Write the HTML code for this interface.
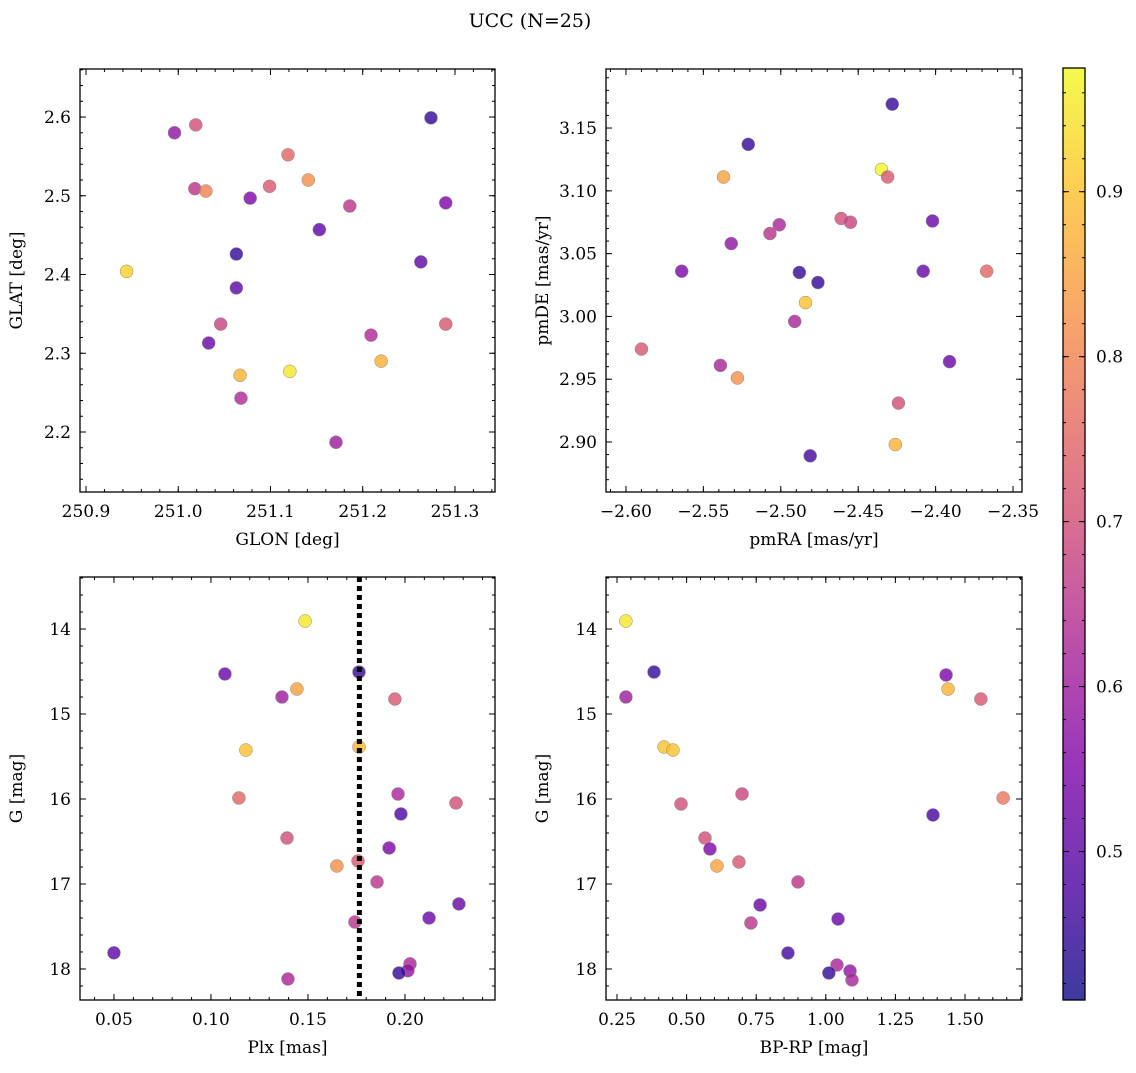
<!DOCTYPE html>
<html><head><meta charset="utf-8"><style>
body{margin:0;background:#fff}
text{font-family:"DejaVu Serif","Liberation Serif",serif;fill:#000}
</style></head><body>
<svg id="s" width="1136" height="1068" xmlns="http://www.w3.org/2000/svg">
<text x="530" y="27" font-size="19" text-anchor="middle">UCC (N=25)</text>
<defs><linearGradient id="cg" x1="0" y1="1" x2="0" y2="0">
<stop offset="0" stop-color="#0d0887"/><stop offset="0.125" stop-color="#4c02a1"/><stop offset="0.25" stop-color="#7e03a8"/><stop offset="0.375" stop-color="#a82296"/><stop offset="0.5" stop-color="#cc4778"/><stop offset="0.625" stop-color="#e56b5d"/><stop offset="0.75" stop-color="#f89540"/><stop offset="0.875" stop-color="#fdc328"/><stop offset="1" stop-color="#f0f921"/>
</linearGradient></defs>
</svg>
<script>
// Panel 1 data
const p1X=[250.944,250.996,251.019,251.018,251.030,251.078,251.099,251.119,251.141,251.153,251.186,251.063,251.063,251.046,251.033,251.067,251.121,251.068,251.209,251.220,251.171,251.274,251.263,251.290,251.290];
const p1Y=[2.404,2.580,2.590,2.509,2.506,2.497,2.512,2.552,2.520,2.457,2.487,2.426,2.383,2.337,2.313,2.272,2.277,2.243,2.323,2.290,2.187,2.599,2.416,2.491,2.337];
const p1C=[0.92,0.58,0.70,0.65,0.80,0.55,0.72,0.75,0.82,0.50,0.65,0.45,0.50,0.68,0.52,0.88,0.95,0.63,0.63,0.87,0.60,0.45,0.50,0.55,0.72];
// Panel 2 data
const p2X=[-2.428,-2.521,-2.537,-2.435,-2.431,-2.501,-2.507,-2.532,-2.461,-2.455,-2.402,-2.564,-2.488,-2.476,-2.408,-2.367,-2.484,-2.491,-2.590,-2.539,-2.528,-2.391,-2.424,-2.426,-2.481];
const p2Y=[3.169,3.137,3.111,3.117,3.111,3.073,3.066,3.058,3.078,3.075,3.076,3.036,3.035,3.027,3.036,3.036,3.011,2.996,2.974,2.961,2.951,2.964,2.931,2.898,2.889];
const p2C=[0.45,0.45,0.85,0.97,0.72,0.62,0.65,0.58,0.70,0.68,0.52,0.55,0.45,0.45,0.52,0.75,0.90,0.62,0.72,0.62,0.82,0.52,0.70,0.88,0.47];
// Panel 3 data
const p3X=[0.1485,0.1072,0.1763,0.1366,0.1443,0.1948,0.1180,0.1763,0.1144,0.1964,0.2263,0.1979,0.1392,0.1918,0.1649,0.1758,0.1856,0.2278,0.2124,0.1742,0.0500,0.1397,0.2026,0.2015,0.1969];
const p3Y=[13.906,14.529,14.506,14.80,14.706,14.824,15.424,15.388,15.988,15.941,16.047,16.176,16.459,16.576,16.788,16.729,16.976,17.235,17.40,17.447,17.81,18.118,17.94,18.02,18.047];
const p3C=[0.95,0.52,0.45,0.60,0.85,0.72,0.90,0.88,0.75,0.62,0.70,0.48,0.70,0.55,0.82,0.72,0.65,0.52,0.52,0.65,0.50,0.62,0.62,0.58,0.45];
const p3Line=0.1765;
// Panel 4 data
const p4X=[0.282,0.282,0.383,1.432,1.439,1.557,0.419,0.451,0.480,0.699,1.637,1.385,0.566,0.584,0.609,0.688,0.900,0.764,0.731,1.044,0.864,1.040,1.011,1.087,1.094];
const p4Y=[13.906,14.80,14.506,14.541,14.706,14.824,15.388,15.424,16.059,15.941,15.988,16.188,16.459,16.588,16.788,16.741,16.976,17.247,17.459,17.412,17.812,17.953,18.047,18.024,18.129];
const p4C=[0.95,0.60,0.45,0.55,0.88,0.72,0.90,0.90,0.70,0.68,0.78,0.47,0.70,0.55,0.85,0.72,0.65,0.52,0.65,0.52,0.47,0.62,0.45,0.58,0.62];
const cMin=0.41,cMax=0.975;
const cbTicks=[0.5,0.6,0.7,0.8,0.9];

const svg=document.getElementById('s');
const NS='http://www.w3.org/2000/svg';
function mk(t,a,p){const e=document.createElementNS(NS,t);for(const k in a)e.setAttribute(k,a[k]);(p||svg).appendChild(e);return e;}
const stops=[[13,8,135],[76,2,161],[126,3,168],[168,34,150],[204,71,120],[229,107,93],[248,149,64],[253,195,40],[240,249,33]];
function plasma(v){v=Math.max(0,Math.min(1,v));const f=v*8,i=Math.min(7,Math.floor(f)),t=f-i;const a=stops[i],b=stops[i+1];return 'rgb('+a.map((x,k)=>Math.round(x+(b[k]-x)*t)).join(',')+')';}
function fmt(v,d){return v.toFixed(d).replace('-','\u2212');}
function panel(name,L,T,R,B,xd,yd,xMaj,xMin,yMaj,yMin,xdec,ydec,xl,yl,X,Y,C){
  const g=mk('g',{});
  
  
  const sx=v=>L+(v-xd[0])/(xd[1]-xd[0])*(R-L);
  const sy=v=>T+(v-yd[0])/(yd[1]-yd[0])*(B-T);
  const r=mk('rect',{x:L,y:T,width:R-L,height:B-T,fill:'none',stroke:'#000','stroke-width':1.3},g);
  
  const ticks=(arr,len,isX)=>{arr.forEach(v=>{if(isX){const x=sx(v);mk('line',{x1:x,x2:x,y1:B,y2:B-len,stroke:'#000'},g);mk('line',{x1:x,x2:x,y1:T,y2:T+len,stroke:'#000'},g);}else{const y=sy(v);mk('line',{x1:L,x2:L+len,y1:y,y2:y,stroke:'#000'},g);mk('line',{x1:R,x2:R-len,y1:y,y2:y,stroke:'#000'},g);}});};
  const rng=(a,b,s)=>{const o=[];for(let v=a;v<=b+1e-9;v+=s)o.push(+v.toFixed(6));return o;};
  ticks(rng(xMin[0],xMin[1],xMin[2]).filter(v=>sx(v)>=L&&sx(v)<=R),3,true);
  ticks(rng(yMin[0],yMin[1],yMin[2]).filter(v=>sy(v)>=Math.min(T,B)&&sy(v)<=Math.max(T,B)),3,false);
  const xm=rng(xMaj[0],xMaj[1],xMaj[2]),ym=rng(yMaj[0],yMaj[1],yMaj[2]);
  ticks(xm,6,true);ticks(ym,6,false);
  xm.forEach(v=>{const t=mk('text',{x:sx(v),y:B+25,'font-size':17,'text-anchor':'middle'},g);t.textContent=fmt(v,xdec);});
  ym.forEach(v=>{const t=mk('text',{x:L-9,y:sy(v)+6,'font-size':17,'text-anchor':'end'},g);t.textContent=fmt(v,ydec);});
  const xt=mk('text',{x:(L+R)/2,y:B+53,'font-size':17,'text-anchor':'middle'},g);xt.textContent=xl;
  
  const yt=mk('text',{x:0,y:0,'font-size':17,'text-anchor':'middle',transform:'translate('+(L-58)+','+(T+B)/2+') rotate(-90)'},g);yt.textContent=yl;
  
  X.forEach((v,i)=>{const c=mk('circle',{cx:sx(v),cy:sy(Y[i]),r:6.5,fill:plasma((C[i]-cMin)/(cMax-cMin)),'fill-opacity':0.8,stroke:'#888','stroke-width':0.5},g);
    });
  return {g,sx,sy};
}
panel('panel-glon-glat',80,69,495,492,[250.8935,251.3434],[2.661,2.1238],[250.9,251.3,0.1],[250.9,251.34,0.02],[2.2,2.6,0.1],[2.14,2.66,0.02],1,1,'GLON [deg]','GLAT [deg]',p1X,p1Y,p1C);
panel('panel-pm',606,69,1022,492,[-2.6129,-2.3442],[3.197,2.8602],[-2.6,-2.35,0.05],[-2.61,-2.35,0.01],[2.9,3.15,0.05],[2.87,3.19,0.01],2,2,'pmRA [mas/yr]','pmDE [mas/yr]',p2X,p2Y,p2C);
const P3=panel('panel-plx-g',80,577,495,1000,[0.0325,0.2464],[13.388,18.365],[0.05,0.2,0.05],[0.04,0.24,0.01],[14,18,1],[13.4,18.2,0.2],2,0,'Plx [mas]','G [mag]',p3X,p3Y,p3C);
const vl=mk('line',{x1:P3.sx(p3Line),x2:P3.sx(p3Line),y1:577,y2:1000,stroke:'#000','stroke-width':5,'stroke-dasharray':'5,4'},P3.g);

panel('panel-cmd',606,577,1022,1000,[0.2105,1.7047],[13.388,18.365],[0.25,1.5,0.25],[0.25,1.7,0.05],[14,18,1],[13.4,18.2,0.2],2,0,'BP-RP [mag]','G [mag]',p4X,p4Y,p4C);
// colorbar
const cb=mk('g',{});


mk('rect',{x:1063,y:68,width:22,height:932,fill:'url(#cg)','fill-opacity':0.8},cb);
mk('rect',{x:1063,y:68,width:22,height:932,fill:'none',stroke:'#000','stroke-width':1.3},cb);
const cy=v=>1000-(v-cMin)/(cMax-cMin)*932;
for(let v=0.42;v<0.975;v+=0.02){mk('line',{x1:1085,x2:1082,y1:cy(v),y2:cy(v),stroke:'#000'},cb);mk('line',{x1:1063,x2:1066,y1:cy(v),y2:cy(v),stroke:'#000'},cb);}
cbTicks.forEach(v=>{mk('line',{x1:1085,x2:1079,y1:cy(v),y2:cy(v),stroke:'#000'},cb);mk('line',{x1:1063,x2:1069,y1:cy(v),y2:cy(v),stroke:'#000'},cb);
  const t=mk('text',{x:1096,y:cy(v)+6,'font-size':17},cb);t.textContent=v.toFixed(1);
  });
</script>
</body></html>
